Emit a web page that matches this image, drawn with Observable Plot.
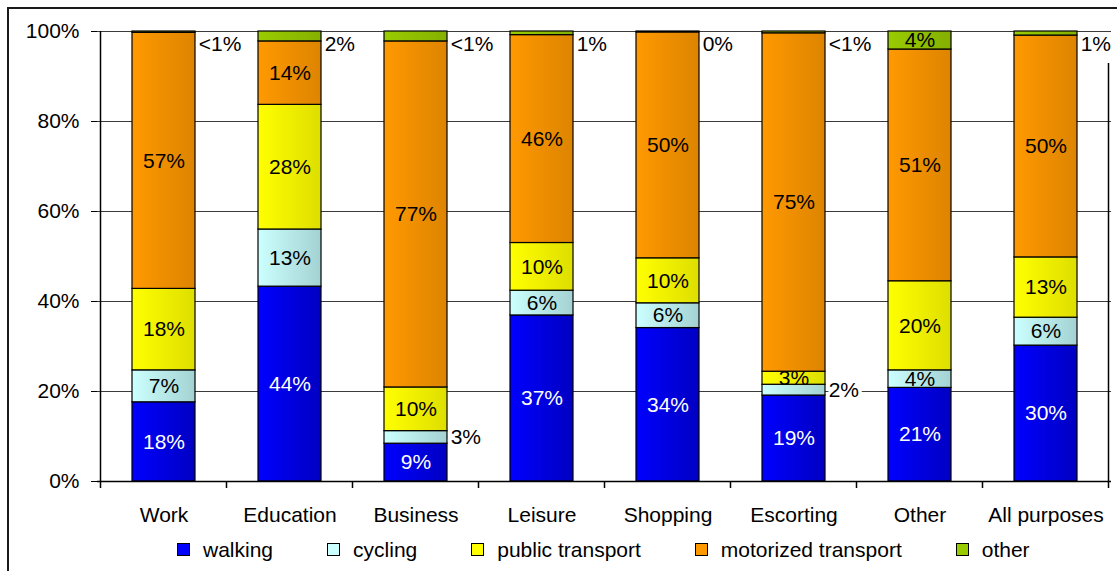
<!DOCTYPE html>
<html><head><meta charset="utf-8">
<script src="https://cdn.jsdelivr.net/npm/d3@7"></script>
<script src="https://cdn.jsdelivr.net/npm/@observablehq/plot@0.6"></script>
<style>
html,body{margin:0;padding:0;background:#fff;}
body{width:1117px;height:571px;position:relative;overflow:hidden;font-family:"Liberation Sans",Arial,sans-serif;color:#000;}
#frame{position:absolute;left:7px;top:7px;width:1200px;height:700px;border-left:2px solid #1a1a1a;border-top:2px solid #1a1a1a;pointer-events:none;}
#chart{position:absolute;left:0;top:0;}
#legend{position:absolute;left:177px;top:537px;display:flex;align-items:center;font-size:21px;line-height:25px;}
.item{display:flex;align-items:center;margin-right:54px;}
.sw{width:11px;height:11px;border:1.5px solid #000;margin-right:13px;}
</style></head><body>
<div id="chart"></div><div id="legend"></div><div id="frame"></div>
<script>
// ---- data ----
const categories = ["Work","Education","Business","Leisure","Shopping","Escorting","Other","All purposes"];
const modes = ["walking","cycling","public transport","motorized transport","other"];
const walking   = [17.6, 43.3,  8.4, 36.9, 34.1, 19.1, 20.8, 30.2];
const cycling   = [ 7.1, 12.7,  2.8,  5.5,  5.5,  2.4,  3.9,  6.2];
const publicTr  = [18.1, 27.7,  9.7, 10.6, 10.0,  2.9, 19.8, 13.4];
const motorized = [56.9, 14.1, 76.9, 46.2, 50.2, 75.2, 51.5, 49.3];
const otherMode = [ 0.3,  2.2,  2.2,  0.8,  0.2,  0.4,  4.0,  0.9];
const walkingLabels   = ["18%","44%","9%","37%","34%","19%","21%","30%"];
const cyclingLabels   = ["7%","13%","3%","6%","6%","2%","4%","6%"];
const publicLabels    = ["18%","28%","10%","10%","10%","3%","20%","13%"];
const motorizedLabels = ["57%","14%","77%","46%","50%","75%","51%","50%"];
const otherLabels     = ["<1%","2%","<1%","1%","0%","<1%","4%","1%"];
const yTicks = [0, 20, 40, 60, 80, 100];

// ---- styles ----
const modeColors = ["#0000FF","#CCFFFF","#FFFF00","#FF9900","#99CC00"];
const modeShades = ["#0000C2","#A4D2D2","#DEDE00","#DD8400","#85B000"];
const modeIds = ["g-walk","g-cyc","g-pub","g-mot","g-oth"];
const labelColors = ["#fff","#000","#000","#000","#000"];

const seriesValues = [walking, cycling, publicTr, motorized, otherMode];
const seriesLabels = [walkingLabels, cyclingLabels, publicLabels, motorizedLabels, otherLabels];

const rows = [];
const labelRows = [];
categories.forEach((c, ci) => {
  let cum = 0;
  modes.forEach((m, mi) => {
    const v = seriesValues[mi][ci];
    rows.push({category: c, mode: m, value: v});
    const small = v < 2.85;
    const isTop = small && mi === modes.length - 1;
    labelRows.push({
      category: c, mode: m, label: seriesLabels[mi][ci],
      y: isTop ? cum + v : cum + v / 2,
      top: isTop, outside: small, color: labelColors[mi]
    });
    cum += v;
  });
});

const W = 1117, H = 530, mL = 97, mR = 6, mT = 31, mB = 49;
const step = (W - mL - mR) / categories.length;
const bw = step * 0.5;
const FS = 21;
const outsideStyle = {
  x: "category", y: "y", text: "label", fill: "#000", fontSize: FS,
  textAnchor: "start", dx: bw / 2 + 3,
  stroke: "#fff", strokeWidth: 7, paintOrder: "stroke"
};

const plot = Plot.plot({
  width: W, height: H,
  marginLeft: mL, marginRight: mR, marginTop: mT, marginBottom: mB,
  style: {fontFamily: '"Liberation Sans", Arial, sans-serif', fontSize: FS + "px", color: "#000", background: "transparent"},
  x: {domain: categories, paddingInner: 0.5, paddingOuter: 0.25, label: null},
  y: {domain: [0, 100], label: null},
  color: {type: "ordinal", domain: modes, range: modeIds.map(id => `url(#${id})`)},
  marks: [
    Plot.gridY(yTicks, {stroke: "#3a3a3a", strokeOpacity: 1, strokeWidth: 1.2}),
    Plot.axisY(yTicks, {tickFormat: d => d + "%", tickSize: 6, tickPadding: 12, stroke: "#000", fontSize: FS}),
    Plot.axisX({tickSize: 0, tickPadding: 26, fontSize: FS}),
    Plot.barY(rows, {x: "category", y: "value", fill: "mode", order: modes, stroke: "#000", strokeWidth: 1.2}),
    Plot.ruleY([0], {stroke: "#000", strokeWidth: 1.5}),
    Plot.text(labelRows.filter(d => !d.outside), {
      x: "category", y: "y", text: "label", fill: "color", fontSize: FS
    }),
    Plot.text(labelRows.filter(d => d.outside && !d.top), outsideStyle),
    Plot.text(labelRows.filter(d => d.top), {...outsideStyle, dy: 13})
  ]
});

document.getElementById("chart").appendChild(plot);

// gradients + axis decorations derived from the plot scales
const svg = d3.select(plot);
const defs = svg.insert("defs", ":first-child");
modeIds.forEach((id, i) => {
  const g = defs.append("linearGradient").attr("id", id).attr("x1", "0%").attr("x2", "100%").attr("y1", "0%").attr("y2", "0%");
  g.append("stop").attr("offset", "0%").attr("stop-color", modeColors[i]);
  g.append("stop").attr("offset", "100%").attr("stop-color", modeShades[i]);
});
const xs = plot.scale("x"), ys = plot.scale("y");
const xStep = xs.step || step, xBw = xs.bandwidth || bw;
const edges = categories.map(c => xs.apply(c) - (xStep - xBw) / 2);
edges.push(edges[edges.length - 1] + xStep);
const y0 = ys.apply(0), y100 = ys.apply(100);
const deco = svg.append("g").attr("stroke", "#000").attr("stroke-width", 1.5);
edges.forEach(e => deco.append("line").attr("x1", e).attr("x2", e).attr("y1", y0).attr("y2", y0 + 7));
deco.append("line").attr("x1", edges[0]).attr("x2", edges[0]).attr("y1", y100).attr("y2", y0);
const xr = edges[edges.length - 1];
deco.append("line").attr("x1", xr).attr("x2", xr).attr("y1", y100 + 32).attr("y2", y0);

// legend
const legend = d3.select("#legend");
modes.forEach((m, i) => {
  const it = legend.append("div").attr("class", "item");
  it.append("div").attr("class", "sw").style("background", modeColors[i]);
  it.append("span").text(m);
});
</script>
</body></html>
